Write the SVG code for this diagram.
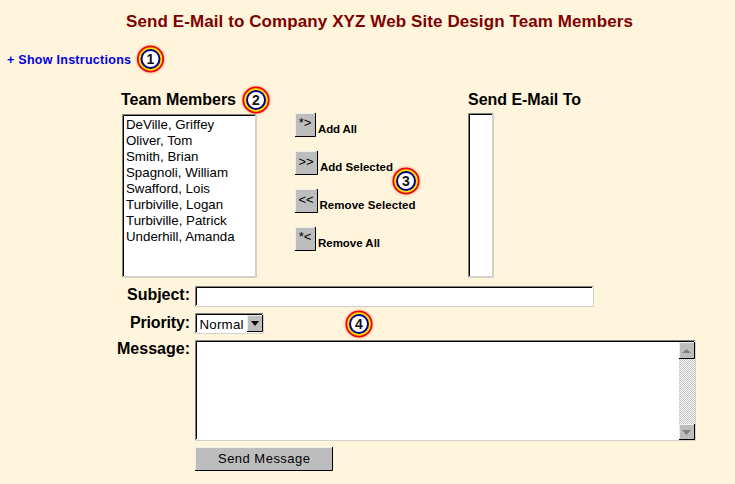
<svg xmlns="http://www.w3.org/2000/svg" width="735" height="484" viewBox="0 0 735 484">
<style>
text{font-family:"Liberation Sans",Arial,sans-serif}
.lab{font-size:16px;font-weight:bold;fill:#000}
.small{font-size:11.500px;font-weight:bold;fill:#000}
.item{font-size:13.300px;fill:#000}
.btn{font-size:13px;fill:#000;text-anchor:middle}
.num{font-size:14px;font-weight:bold;text-anchor:middle;fill:#111}
.dark{fill:none;stroke:#000}
.lt{fill:none;stroke:#d4d0c8}
.gr{fill:none;stroke:#808080}
.hi{fill:none;stroke:#eee}
.face{fill:#bdbdbd}
</style>
<defs>
<pattern id="chk" width="2" height="2" patternUnits="userSpaceOnUse"><rect width="2" height="2" fill="#fff"/><rect width="1" height="1" fill="#bdbdbd"/><rect x="1" y="1" width="1" height="1" fill="#bdbdbd"/></pattern>
<filter id="glow" x="-30%" y="-30%" width="160%" height="160%"><feGaussianBlur stdDeviation="0.8"/></filter>
<g id="badge"><circle r="14.500" fill="#f8a070" opacity="0.55" filter="url(#glow)"/><circle r="13.600" fill="#f00000"/><circle r="11.800" fill="#ffe000"/><circle r="10" fill="#000090"/><circle r="8" fill="#fff"/></g>
</defs>
<rect width="735" height="484" fill="#fff5dc"/>
<text x="379.500" y="27" text-anchor="middle" font-size="17" font-weight="bold" fill="#800000" textLength="507" lengthAdjust="spacing">Send E-Mail to Company XYZ Web Site Design Team Members</text>
<text x="7" y="64" font-size="12.500" font-weight="bold" fill="#0000e0" textLength="124">+ Show Instructions</text>
<text x="121" y="105" class="lab" textLength="115">Team Members</text>
<text x="468" y="105" class="lab" textLength="113">Send E-Mail To</text>

<g id="team-list"><rect x="122" y="114" width="135" height="164" fill="#fff"/><path class="lt" d="M122.500 277.500H256.500V114.500M123.500 276.500H255.500V115.500"/><path class="gr" d="M122.500 277V114.500H256"/><path class="dark" d="M123.500 276V115.500H255"/>
<text class="item" x="126" y="129">DeVille, Griffey</text><text class="item" x="126" y="145">Oliver, Tom</text><text class="item" x="126" y="161">Smith, Brian</text><text class="item" x="126" y="177">Spagnoli, William</text><text class="item" x="126" y="193">Swafford, Lois</text><text class="item" x="126" y="209">Turbiville, Logan</text><text class="item" x="126" y="225">Turbiville, Patrick</text><text class="item" x="126" y="241">Underhill, Amanda</text></g>

<g id="send-list"><rect x="468" y="113" width="26" height="165" fill="#fff"/><path class="lt" d="M468.500 277.500H493.500V113.500M469.500 276.500H492.500V114.500"/><path class="gr" d="M468.500 277V113.500H493"/><path class="dark" d="M469.500 276V114.500H492"/></g>

<g id="add-all"><rect class="face" x="295" y="113" width="20" height="24"/><path class="hi" d="M295.500 136V113.500H314"/><path class="dark" d="M295 136.500H315.500V113"/><text x="305" y="127" class="btn">*&gt;</text><text x="318" y="133" class="small" textLength="39">Add All</text></g>
<g id="add-selected"><rect class="face" x="295" y="151" width="22" height="24"/><path class="hi" d="M295.500 174V151.500H316"/><path class="dark" d="M295 174.500H317.500V151"/><text x="306" y="166" class="btn">&gt;&gt;</text><text x="320" y="171" class="small" textLength="73">Add Selected</text></g>
<g id="remove-selected"><rect class="face" x="295" y="189" width="22" height="24"/><path class="hi" d="M295.500 212V189.500H316"/><path class="dark" d="M295 212.500H317.500V189"/><text x="306" y="204" class="btn">&lt;&lt;</text><text x="319.500" y="209" class="small" textLength="96">Remove Selected</text></g>
<g id="remove-all"><rect class="face" x="295" y="227" width="20" height="24"/><path class="hi" d="M295.500 250V227.500H314"/><path class="dark" d="M295 250.500H315.500V227"/><text x="305" y="241" class="btn">*&lt;</text><text x="318" y="247" class="small" textLength="62">Remove All</text></g>

<g id="subject"><text x="127" y="300" class="lab" textLength="63">Subject:</text><rect x="195" y="286" width="399" height="21" fill="#fff"/><path class="lt" d="M195.500 306.500H593.500V286.500"/><path class="gr" d="M195.500 306V286.500H593"/><path class="dark" d="M196.500 305V287.500H592"/></g>

<g id="priority"><text x="130" y="328" class="lab" textLength="60">Priority:</text><rect x="195" y="313" width="69" height="21" fill="#fff"/><path class="lt" d="M195.500 333.500H263.500V313.500"/><path class="gr" d="M195.500 333V313.500H263"/><path class="dark" d="M196.500 332V314.500H262"/><text class="item" x="199.500" y="329" textLength="44">Normal</text><rect class="face" x="247" y="315" width="15" height="17"/><path class="hi" d="M247.500 332V315.500H262"/><path class="dark" d="M247 331.500H262.500V315"/><path d="M251 321H259L255 326Z" fill="#000"/></g>

<g id="message"><text x="117" y="354" class="lab" textLength="73">Message:</text><rect x="195" y="340" width="501" height="101" fill="#fff"/><path class="lt" d="M195.500 440.500H695.500V340.500"/><path class="gr" d="M195.500 440V340.500H695"/><path class="dark" d="M196.500 439V341.500H694"/>
<rect x="679" y="342" width="16" height="98" fill="url(#chk)"/>
<rect class="face" x="679" y="342" width="16" height="17"/><path class="hi" d="M679.500 358V342.500H695"/><path class="dark" d="M679 358.500H694.500V342"/><path d="M682 353H691L686.500 349Z" fill="#808080"/>
<rect class="face" x="679" y="424" width="16" height="16"/><path class="hi" d="M679.500 439V424.500H695"/><path class="dark" d="M679 439.500H694.500V424"/><path d="M682 430H691L686.500 435Z" fill="#808080"/></g>

<g id="send-button"><rect class="face" x="195" y="447" width="138" height="24"/><path class="hi" d="M195.500 470V447.500H332"/><path class="dark" d="M195 470.500H332.500V447"/><text x="264" y="463" class="btn" font-size="13.300" textLength="92">Send Message</text></g>

<g id="callout-1"><use href="#badge" x="150.500" y="59"/><text x="150.500" y="64" class="num">1</text></g>
<g id="callout-2"><use href="#badge" x="256" y="100"/><text x="256" y="105" class="num">2</text></g>
<g id="callout-3"><use href="#badge" x="406" y="181"/><text x="406" y="186" class="num">3</text></g>
<g id="callout-4"><use href="#badge" x="359" y="324"/><text x="359" y="329" class="num">4</text></g>
</svg>
